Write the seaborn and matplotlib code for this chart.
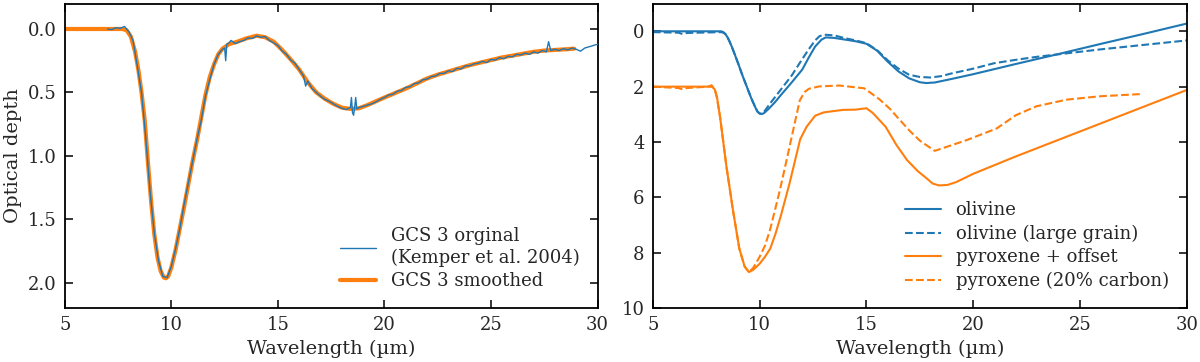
import numpy as np
import pandas as pd
import matplotlib
matplotlib.use("Agg")
import matplotlib.pyplot as plt
import seaborn as sns

# ---------------- Left panel data ----------------
raw_wl = [7.0, 7.2, 7.4, 7.6, 7.8, 8.0, 8.2, 8.4, 8.6, 8.8,
          9.0, 9.2, 9.4, 9.6, 9.8, 10.0, 10.2, 10.4, 10.6, 10.8,
          11.0, 11.2, 11.4, 11.6, 11.8, 12.0, 12.2, 12.4, 12.5, 12.55,
          12.6, 12.7, 12.8, 13.0, 13.2, 13.4, 13.6, 13.8, 14.0, 14.2,
          14.4, 14.6, 14.8, 15.0, 15.2, 15.4, 15.6, 15.8, 16.0, 16.2,
          16.3, 16.4, 16.6, 16.8, 17.0, 17.2, 17.4, 17.6, 17.8, 18.0,
          18.2, 18.4, 18.45, 18.5, 18.55, 18.6, 18.65, 18.7, 18.8, 19.0,
          19.2, 19.4, 19.6, 19.8, 20.0, 20.2, 20.4, 20.6, 20.8, 21.0,
          21.2, 21.4, 21.6, 21.8, 22.0, 22.2, 22.4, 22.6, 22.8, 23.0,
          23.2, 23.4, 23.6, 23.8, 24.0, 24.2, 24.4, 24.6, 24.8, 25.0,
          25.2, 25.4, 25.6, 25.8, 26.0, 26.2, 26.4, 26.6, 26.8, 27.0,
          27.2, 27.4, 27.6, 27.7, 27.8, 28.0, 28.2, 28.4, 28.6, 28.8,
          29.0, 29.2, 29.4, 29.6, 29.8, 30.0]
raw_tau = [0.00, 0.005, -0.01, -0.005, -0.02, 0.02, 0.09, 0.29, 0.5, 0.86,
           1.28, 1.61, 1.83, 1.95, 1.96, 1.87, 1.73, 1.57, 1.38, 1.21,
           1.04, 0.87, 0.72, 0.53, 0.4, 0.28, 0.2, 0.16, 0.15, 0.25,
           0.12, 0.11, 0.09, 0.115, 0.1, 0.09, 0.07, 0.075, 0.055, 0.065,
           0.06, 0.09, 0.11, 0.13, 0.175, 0.2, 0.245, 0.27, 0.32, 0.37,
           0.45, 0.41, 0.47, 0.5, 0.53, 0.555, 0.57, 0.59, 0.61, 0.625,
           0.635, 0.62, 0.54, 0.66, 0.68, 0.62, 0.54, 0.63, 0.62, 0.61,
           0.6, 0.59, 0.575, 0.555, 0.54, 0.52, 0.515, 0.49, 0.485, 0.46,
           0.455, 0.43, 0.425, 0.4, 0.395, 0.375, 0.37, 0.35, 0.35, 0.33,
           0.335, 0.31, 0.315, 0.29, 0.29, 0.275, 0.27, 0.255, 0.265, 0.24,
           0.245, 0.225, 0.235, 0.215, 0.22, 0.2, 0.205, 0.19, 0.2, 0.18,
           0.19, 0.17, 0.18, 0.10, 0.17, 0.16, 0.17, 0.155, 0.165, 0.15,
           0.16, 0.175, 0.15, 0.14, 0.13, 0.12]

smooth_wl = [5.0, 7.7, 7.9, 8.1, 8.3, 8.45, 8.6, 8.75, 8.9, 9.05,
             9.2, 9.35, 9.5, 9.65, 9.75, 9.85, 10.0, 10.2, 10.4, 10.6,
             10.8, 11.0, 11.2, 11.4, 11.6, 11.8, 12.0, 12.2, 12.4, 12.7,
             13.1, 13.5, 14.0, 14.4, 14.8, 15.2, 15.6, 16.0, 16.4, 16.8,
             17.2, 17.6, 18.0, 18.4, 18.8, 19.2, 19.6, 20.0, 20.5, 21.0,
             21.5, 22.0, 22.5, 23.0, 23.5, 24.0, 24.5, 25.0, 25.5, 26.0,
             26.5, 27.0, 27.5, 28.0, 28.5, 28.9]
smooth_tau = [0.0, 0.0, 0.01, 0.06, 0.18, 0.32, 0.5, 0.72, 1.05, 1.36,
              1.62, 1.8, 1.91, 1.96, 1.965, 1.95, 1.88, 1.74, 1.57, 1.4,
              1.22, 1.04, 0.88, 0.7, 0.52, 0.38, 0.28, 0.2, 0.155, 0.12,
              0.1, 0.075, 0.053, 0.065, 0.1, 0.165, 0.24, 0.32, 0.42, 0.5,
              0.55, 0.59, 0.62, 0.63, 0.625, 0.6, 0.57, 0.54, 0.505, 0.47,
              0.43, 0.39, 0.36, 0.335, 0.31, 0.285, 0.265, 0.245, 0.225, 0.21,
              0.195, 0.18, 0.17, 0.165, 0.16, 0.155]

# ---------------- Right panel data ----------------
oli_wl = [5.0, 8.2, 8.3, 8.4, 8.5, 8.6, 8.7, 8.8, 9.0, 9.2,
          9.4, 9.6, 9.8, 9.9, 10.0, 10.1, 10.2, 10.4, 10.7, 11.0,
          11.5, 12.0, 12.3, 12.6, 12.9, 13.1, 13.5, 14.0, 14.5, 15.0,
          15.5, 16.0, 16.5, 17.0, 17.5, 17.8, 18.2, 19.0, 20.0, 22.0,
          24.0, 26.0, 28.0, 30.0]
oli_tau = [0.0, 0.0, 0.03, 0.1, 0.22, 0.38, 0.56, 0.76, 1.17, 1.6,
           2.0, 2.4, 2.75, 2.9, 2.97, 2.99, 2.96, 2.82, 2.58, 2.3,
           1.85, 1.38, 0.95, 0.55, 0.3, 0.22, 0.24, 0.3, 0.36, 0.45,
           0.7, 1.1, 1.45, 1.7, 1.84, 1.87, 1.85, 1.72, 1.55, 1.18,
           0.82, 0.45, 0.09, -0.28]

olil_wl = [5.0, 6.2, 6.4, 6.6, 8.2, 8.3, 8.4, 8.5, 8.6, 8.7,
           8.8, 9.0, 9.2, 9.4, 9.6, 9.8, 9.9, 10.0, 10.1, 10.2,
           10.5, 11.0, 11.5, 12.0, 12.3, 12.6, 12.8, 13.0, 13.5, 14.0,
           14.5, 15.0, 15.5, 16.0, 16.5, 17.0, 17.5, 18.0, 18.5, 19.0,
           20.0, 21.0, 22.0, 23.0, 24.0, 25.0, 26.0, 27.0, 28.0, 29.0,
           30.0]
olil_tau = [0.03, 0.05, 0.1, 0.06, 0.03, 0.05, 0.1, 0.22, 0.38, 0.56,
            0.76, 1.17, 1.6, 2.0, 2.4, 2.75, 2.9, 2.97, 2.98, 2.92,
            2.6, 2.1, 1.6, 1.0, 0.65, 0.33, 0.18, 0.12, 0.15, 0.25,
            0.33, 0.43, 0.68, 1.05, 1.35, 1.57, 1.65, 1.67, 1.62, 1.52,
            1.35, 1.15, 1.03, 0.92, 0.83, 0.74, 0.65, 0.57, 0.49, 0.41,
            0.33]

pyr_wl = [5.0, 7.7, 7.8, 7.9, 8.0, 8.15, 8.45, 8.75, 9.05, 9.3,
          9.5, 9.7, 10.0, 10.25, 10.5, 10.75, 11.0, 11.4, 11.9, 12.2,
          12.6, 13.0, 13.9, 14.5, 15.0, 15.3, 15.9, 16.4, 16.9, 17.4,
          17.8, 18.1, 18.4, 18.8, 19.2, 20.0, 22.0, 24.0, 26.0, 28.0,
          30.0]
pyr_tau = [2.0, 2.0, 2.02, 2.1, 2.35, 3.1, 4.9, 6.45, 7.85, 8.5,
           8.7, 8.62, 8.4, 8.15, 7.85, 7.3, 6.65, 5.5, 3.9, 3.45,
           3.05, 2.93, 2.84, 2.83, 2.78, 2.95, 3.45, 4.1, 4.65, 5.05,
           5.3, 5.5, 5.57, 5.55, 5.45, 5.15, 4.52, 3.92, 3.32, 2.72,
           2.12]

pyrc_wl = [5.0, 6.2, 6.4, 6.6, 7.6, 7.75, 7.9, 8.0, 8.15, 8.45,
           8.75, 9.05, 9.3, 9.5, 9.7, 10.0, 10.25, 10.48, 10.95, 11.4,
           11.65, 11.88, 12.1, 12.3, 12.8, 13.75, 14.9, 15.6, 16.1, 16.56,
           17.03, 17.5, 18.2, 19.7, 21.1, 22.0, 22.96, 24.37, 25.9, 27.8]
pyrc_tau = [2.0, 2.05, 2.1, 2.05, 2.0, 1.95, 2.1, 2.4, 3.1, 4.9,
            6.45, 7.85, 8.5, 8.7, 8.55, 8.15, 7.75, 7.2, 5.74, 4.18,
            3.3, 2.5, 2.2, 2.08, 1.99, 1.96, 2.06, 2.45, 2.8, 3.2,
            3.6, 3.95, 4.32, 3.93, 3.51, 3.03, 2.71, 2.47, 2.35, 2.27]

left_labels = ["GCS 3 orginal\n(Kemper et al. 2004)", "GCS 3 smoothed"]
right_labels = ["olivine", "olivine (large grain)", "pyroxene + offset",
                "pyroxene (20% carbon)"]
x_ticks = [5, 10, 15, 20, 25, 30]
left_yticks = [0.0, 0.5, 1.0, 1.5, 2.0]
right_yticks = [0, 2, 4, 6, 8, 10]

BLUE = "#1f77b4"
ORANGE = "#ff7f0e"

sns.set_style("ticks")
plt.rcParams["font.family"] = ["DejaVu Serif"]
plt.rcParams["mathtext.fontset"] = "dejavuserif"

fig = plt.figure(figsize=(12, 3.62), dpi=100)
ax1 = fig.add_axes([0.054, 0.149, 0.444, 0.841])
ax2 = fig.add_axes([0.544, 0.149, 0.445, 0.841])

# left
sns.lineplot(x=smooth_wl, y=smooth_tau, ax=ax1, color=ORANGE, lw=3,
             sort=False, estimator=None, label=left_labels[1], zorder=2)
sns.lineplot(x=raw_wl, y=raw_tau, ax=ax1, color=BLUE, lw=1,
             sort=False, estimator=None, label=left_labels[0], zorder=3)
ax1.set_xlim(5, 30)
ax1.set_ylim(2.2, -0.2)
ax1.set_xticks(x_ticks)
ax1.set_yticks(left_yticks)
ax1.set_yticklabels([f"{v:.1f}" for v in left_yticks])
ax1.set_xlabel("Wavelength (µm)", fontsize=14)
ax1.set_ylabel("Optical depth", fontsize=14)
h, l = ax1.get_legend_handles_labels()
ax1.legend([h[1], h[0]], [l[1], l[0]], loc="lower right", frameon=False,
           fontsize=13, handlelength=2.0, borderaxespad=0.6, labelspacing=0.3)

# right
sns.lineplot(x=oli_wl, y=oli_tau, ax=ax2, color=BLUE, lw=1.5, sort=False,
             estimator=None, label=right_labels[0])
sns.lineplot(x=olil_wl, y=olil_tau, ax=ax2, color=BLUE, lw=1.5, sort=False,
             estimator=None, label=right_labels[1], linestyle="--")
sns.lineplot(x=pyr_wl, y=pyr_tau, ax=ax2, color=ORANGE, lw=1.5, sort=False,
             estimator=None, label=right_labels[2])
sns.lineplot(x=pyrc_wl, y=pyrc_tau, ax=ax2, color=ORANGE, lw=1.5, sort=False,
             estimator=None, label=right_labels[3], linestyle="--")
ax2.set_xlim(5, 30)
ax2.set_ylim(10, -1)
ax2.set_xticks(x_ticks)
ax2.set_yticks(right_yticks)
ax2.set_xlabel("Wavelength (µm)", fontsize=14)
ax2.set_ylabel("")
ax2.legend(loc="lower right", frameon=False, fontsize=13, handlelength=2.0,
           borderaxespad=0.6, labelspacing=0.3)

for ax in (ax1, ax2):
    ax.tick_params(direction="in", top=True, right=True, length=6, width=1.3,
                   labelsize=13, pad=6)
    for s in ax.spines.values():
        s.set_linewidth(1.3)
        s.set_color("black")

fig.savefig("out.png", dpi=100)
